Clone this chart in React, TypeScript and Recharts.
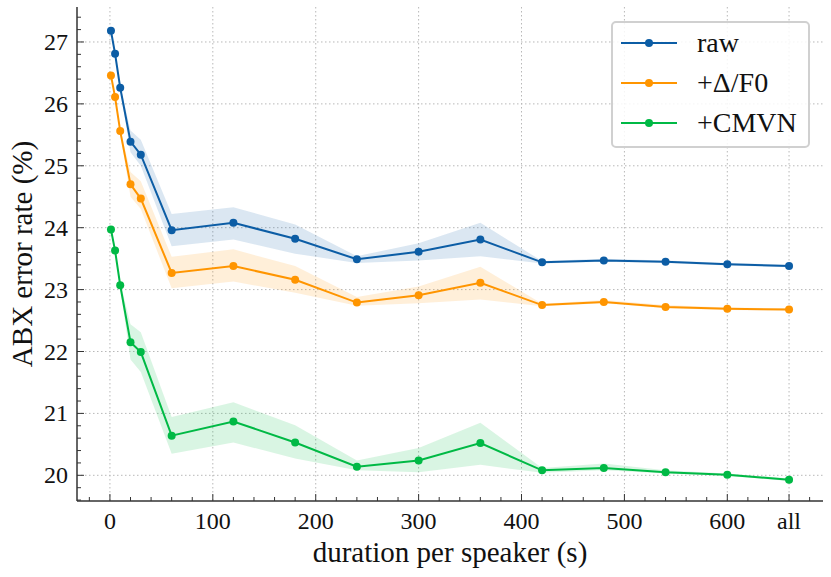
import React from 'react'
import {
  ComposedChart,
  Line,
  Area,
  XAxis,
  YAxis,
  CartesianGrid,
  Legend,
  Label,
} from 'recharts'

// durations per speaker (s); 660 stands for "all"
const DURATIONS = [1, 5, 10, 20, 30, 60, 120, 180, 240, 300, 360, 420, 480, 540, 600, 660]

const RAW = [27.18, 26.81, 26.26, 25.39, 25.18, 23.96, 24.08, 23.82, 23.49, 23.61, 23.81, 23.44, 23.47, 23.45, 23.41, 23.38]
const RAW_LO = [27.15, 26.78, 26.22, 25.22, 25.0, 23.7, 23.81, 23.58, 23.43, 23.47, 23.54, 23.42, 23.45, 23.43, 23.39, 23.36]
const RAW_HI = [27.21, 26.84, 26.3, 25.57, 25.42, 24.22, 24.33, 24.05, 23.54, 23.75, 24.08, 23.46, 23.5, 23.47, 23.43, 23.4]

const DELTA = [26.46, 26.11, 25.56, 24.7, 24.47, 23.27, 23.38, 23.16, 22.79, 22.91, 23.11, 22.75, 22.8, 22.72, 22.69, 22.68]
const DELTA_LO = [26.43, 26.08, 25.52, 24.5, 24.3, 23.02, 23.13, 22.95, 22.74, 22.78, 22.84, 22.73, 22.78, 22.7, 22.67, 22.66]
const DELTA_HI = [26.49, 26.14, 25.6, 24.9, 24.75, 23.53, 23.65, 23.38, 22.88, 23.05, 23.37, 22.77, 22.83, 22.75, 22.71, 22.7]

const CMVN = [23.97, 23.63, 23.07, 22.15, 21.99, 20.64, 20.87, 20.53, 20.14, 20.24, 20.52, 20.08, 20.12, 20.05, 20.01, 19.93]
const CMVN_LO = [23.94, 23.6, 23.02, 21.87, 21.67, 20.35, 20.53, 20.27, 20.08, 20.05, 20.17, 20.04, 20.08, 20.03, 19.99, 19.91]
const CMVN_HI = [24.0, 23.66, 23.12, 22.44, 22.31, 20.94, 21.18, 20.81, 20.24, 20.44, 20.85, 20.12, 20.19, 20.08, 20.03, 19.95]

const X_MAJOR = [0, 100, 200, 300, 400, 500, 600, 660]
const X_LABELS = ['0', '100', '200', '300', '400', '500', '600', 'all']
const Y_MAJOR = [20, 21, 22, 23, 24, 25, 26, 27]

const SERIES = [
  { key: 'raw', band: 'rawBand', name: 'raw', color: '#0C5DA5' },
  { key: 'delta', band: 'deltaBand', name: '+Δ/F0', color: '#FF9500' },
  { key: 'cmvn', band: 'cmvnBand', name: '+CMVN', color: '#00B945' },
]

const X_DOMAIN = [-32, 693]
const Y_DOMAIN = [19.585, 27.565]
const FONT = "'Liberation Serif', 'DejaVu Serif', serif"
const FRAME = '#333333'

const xTicks: number[] = []
for (let v = -20; v <= 680; v += 20) xTicks.push(v)
const yTicks: number[] = []
for (let i = 98; i <= 137; i++) yTicks.push(Math.round(i * 2) / 10)

const data = DURATIONS.map((d, i) => ({
  d,
  raw: RAW[i],
  rawBand: [RAW_LO[i], RAW_HI[i]],
  delta: DELTA[i],
  deltaBand: [DELTA_LO[i], DELTA_HI[i]],
  cmvn: CMVN[i],
  cmvnBand: [CMVN_LO[i], CMVN_HI[i]],
}))

const isMajorY = (v: number) => Math.abs(v - Math.round(v)) < 1e-6
const textStyle = { fontFamily: FONT }

function BottomTick({ x, y, payload }: any) {
  const idx = X_MAJOR.indexOf(payload.value)
  const len = idx >= 0 ? 7 : 4
  return (
    <g>
      <line x1={x} x2={x} y1={y} y2={y - len} stroke={FRAME} strokeWidth={1} />
      {idx >= 0 && (
        <text x={x} y={y + 28} textAnchor="middle" fontSize={24} style={textStyle} fill="#111">
          {X_LABELS[idx]}
        </text>
      )}
    </g>
  )
}

function TopTick({ x, y, payload }: any) {
  const len = X_MAJOR.includes(payload.value) ? 7 : 4
  return <line x1={x} x2={x} y1={y} y2={y + len} stroke={FRAME} strokeWidth={1} />
}

function LeftTick({ x, y, payload }: any) {
  const major = isMajorY(payload.value)
  const len = major ? 7 : 4
  return (
    <g>
      <line x1={x} x2={x + len} y1={y} y2={y} stroke={FRAME} strokeWidth={1} />
      {major && (
        <text x={x - 9} y={y + 8} textAnchor="end" fontSize={24} style={textStyle} fill="#111">
          {Math.round(payload.value)}
        </text>
      )}
    </g>
  )
}

function RightTick({ x, y, payload }: any) {
  const len = isMajorY(payload.value) ? 7 : 4
  return <line x1={x} x2={x - len} y1={y} y2={y} stroke={FRAME} strokeWidth={1} />
}

function LegendBox() {
  return (
    <div
      style={{
        position: 'relative',
        width: 199,
        height: 127,
        boxSizing: 'border-box',
        border: '2px solid #d0d0d0',
        borderRadius: 5,
        background: 'rgba(255,255,255,0.85)',
        fontFamily: FONT,
        fontSize: 28,
        color: '#111',
      }}
    >
      {SERIES.map((s, i) => (
        <div key={s.key} style={{ position: 'absolute', left: 0, top: 2 + i * 40, height: 36, width: 195 }}>
          <svg width={60} height={36} style={{ position: 'absolute', left: 8, top: 0 }}>
            <line x1={0} x2={56} y1={18} y2={18} stroke={s.color} strokeWidth={2} />
            <circle cx={28} cy={18} r={4} fill={s.color} />
          </svg>
          <span style={{ position: 'absolute', left: 84, top: 0, lineHeight: '36px', whiteSpace: 'nowrap' }}>
            {s.name}
          </span>
        </div>
      ))}
    </div>
  )
}

export default function App() {
  return (
    <div style={{ position: 'absolute', left: 0, top: 0, width: 831, height: 577, background: '#fff', fontFamily: FONT }}>
      <ComposedChart width={831} height={577} data={data} margin={{ top: 7, right: 8, bottom: 0, left: 0 }}>
        <CartesianGrid
          stroke="#b8b8b8"
          strokeDasharray="1.5 2.5"
          strokeWidth={1}
          horizontalValues={Y_MAJOR}
          verticalValues={X_MAJOR}
        />
        <XAxis
          dataKey="d"
          type="number"
          domain={X_DOMAIN}
          allowDataOverflow
          ticks={xTicks}
          interval={0}
          tickSize={0}
          tickMargin={0}
          tickLine={false}
          tick={<BottomTick />}
          axisLine={{ stroke: FRAME, strokeWidth: 1.5 }}
          height={76}
        >
          <Label
            content={({ viewBox }: any) => (
              <text
                x={viewBox.x + viewBox.width / 2}
                y={viewBox.y + 61}
                textAnchor="middle"
                fontSize={29}
                style={textStyle}
                fill="#111"
              >
                duration per speaker (s)
              </text>
            )}
          />
        </XAxis>
        <XAxis
          xAxisId="top"
          orientation="top"
          type="number"
          domain={X_DOMAIN}
          allowDataOverflow
          ticks={xTicks}
          interval={0}
          tickSize={0}
          tickMargin={0}
          tickLine={false}
          tick={<TopTick />}
          axisLine={{ stroke: FRAME, strokeWidth: 1.5 }}
          height={0}
        />
        <YAxis
          type="number"
          domain={Y_DOMAIN}
          allowDataOverflow
          ticks={yTicks}
          interval={0}
          tickSize={0}
          tickMargin={0}
          tickLine={false}
          tick={<LeftTick />}
          axisLine={{ stroke: FRAME, strokeWidth: 1.5 }}
          width={77}
        >
          <Label
            content={({ viewBox }: any) => {
              const cx = viewBox.x + 22
              const cy = viewBox.y + viewBox.height / 2
              return (
                <text
                  x={cx}
                  y={cy}
                  textAnchor="middle"
                  dominantBaseline="central"
                  transform={`rotate(-90, ${cx}, ${cy})`}
                  fontSize={29}
                  style={textStyle}
                  fill="#111"
                >
                  ABX error rate (%)
                </text>
              )
            }}
          />
        </YAxis>
        <YAxis
          yAxisId="right"
          orientation="right"
          type="number"
          domain={Y_DOMAIN}
          allowDataOverflow
          ticks={yTicks}
          interval={0}
          tickSize={0}
          tickMargin={0}
          tickLine={false}
          tick={<RightTick />}
          axisLine={{ stroke: FRAME, strokeWidth: 1.5 }}
          width={0}
        />
        {SERIES.map((s) => (
          <Area
            key={s.band}
            dataKey={s.band}
            type="linear"
            stroke="none"
            fill={s.color}
            fillOpacity={0.15}
            dot={false}
            activeDot={false}
            legendType="none"
            isAnimationActive={false}
          />
        ))}
        {SERIES.map((s) => (
          <Line
            key={s.key}
            dataKey={s.key}
            name={s.name}
            type="linear"
            stroke={s.color}
            strokeWidth={2}
            dot={{ r: 4, fill: s.color, stroke: s.color, strokeWidth: 0 }}
            activeDot={false}
            isAnimationActive={false}
          />
        ))}
        <Legend
          layout="vertical"
          align="center"
          verticalAlign="middle"
          content={() => <LegendBox />}
          wrapperStyle={{ left: 611, top: 21, width: 199, height: 127 }}
        />
      </ComposedChart>
    </div>
  )
}
